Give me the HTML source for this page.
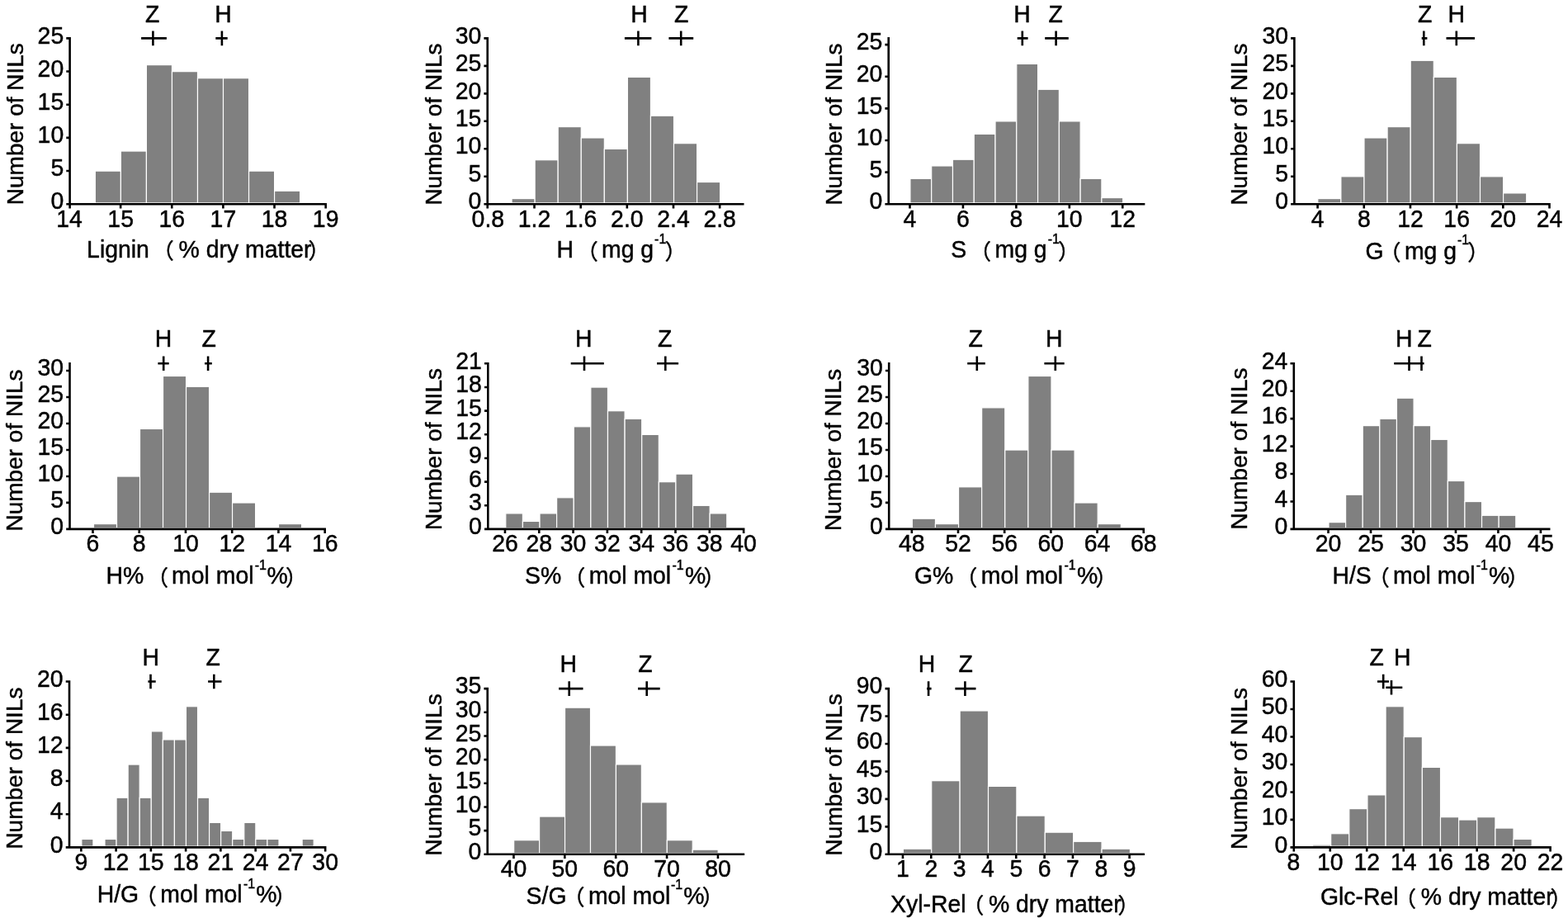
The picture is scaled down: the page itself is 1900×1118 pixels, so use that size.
<!DOCTYPE html>
<html><head><meta charset="utf-8"><title>NIL histograms</title>
<style>
html,body{margin:0;padding:0;background:#fff;overflow:hidden;}
svg{display:block;}
text{font-family:"Liberation Sans", Arial, sans-serif;font-size:28.4px;fill:#000;stroke:#000;stroke-width:0.45px;}
text.cj{font-family:"Noto Sans CJK SC", "Liberation Sans", sans-serif;font-size:26px;}
</style></head><body>
<svg width="1900" height="1118" viewBox="0 0 1900 1118">
<rect width="1900" height="1118" fill="#fff"/>
<g fill="#808080" stroke="#fff" stroke-width="1.15">
<rect x="115.35" y="207.14" width="31.03" height="38.76"/>
<rect x="146.38" y="183.04" width="31.03" height="62.86"/>
<rect x="177.42" y="78.63" width="31.03" height="167.27"/>
<rect x="208.45" y="86.66" width="31.03" height="159.24"/>
<rect x="239.48" y="94.69" width="31.03" height="151.21"/>
<rect x="270.51" y="94.69" width="31.03" height="151.21"/>
<rect x="301.55" y="207.14" width="31.03" height="38.76"/>
<rect x="332.58" y="231.24" width="31.03" height="14.66"/>
<rect x="620.05" y="240.61" width="28.07" height="5.29"/>
<rect x="648.12" y="193.75" width="28.07" height="52.15"/>
<rect x="676.18" y="153.59" width="28.07" height="92.31"/>
<rect x="704.25" y="166.98" width="28.07" height="78.92"/>
<rect x="732.31" y="180.37" width="28.07" height="65.53"/>
<rect x="760.38" y="93.35" width="28.07" height="152.55"/>
<rect x="788.44" y="140.21" width="28.07" height="105.69"/>
<rect x="816.51" y="173.67" width="28.07" height="72.23"/>
<rect x="844.57" y="220.53" width="28.07" height="25.37"/>
<rect x="1102.92" y="216.41" width="25.78" height="29.49"/>
<rect x="1128.7" y="200.96" width="25.78" height="44.94"/>
<rect x="1154.47" y="193.24" width="25.78" height="52.66"/>
<rect x="1180.25" y="162.35" width="25.78" height="83.55"/>
<rect x="1206.03" y="146.9" width="25.78" height="99"/>
<rect x="1231.8" y="77.39" width="25.78" height="168.51"/>
<rect x="1257.58" y="108.28" width="25.78" height="137.62"/>
<rect x="1283.36" y="146.9" width="25.78" height="99"/>
<rect x="1309.13" y="216.41" width="25.78" height="29.49"/>
<rect x="1334.91" y="239.58" width="25.78" height="6.32"/>
<rect x="1596.8" y="240.61" width="28.1" height="5.29"/>
<rect x="1624.9" y="213.83" width="28.1" height="32.07"/>
<rect x="1653" y="166.98" width="28.1" height="78.92"/>
<rect x="1681.1" y="153.59" width="28.1" height="92.31"/>
<rect x="1709.2" y="73.27" width="28.1" height="172.63"/>
<rect x="1737.31" y="93.35" width="28.1" height="152.55"/>
<rect x="1765.41" y="173.67" width="28.1" height="72.23"/>
<rect x="1793.51" y="213.83" width="28.1" height="32.07"/>
<rect x="1821.61" y="233.91" width="28.1" height="11.99"/>
<rect x="113.51" y="634.6" width="28.01" height="5"/>
<rect x="141.52" y="577.03" width="28.01" height="62.57"/>
<rect x="169.52" y="519.46" width="28.01" height="120.14"/>
<rect x="197.53" y="455.49" width="28.01" height="184.11"/>
<rect x="225.54" y="468.28" width="28.01" height="171.32"/>
<rect x="253.55" y="596.22" width="28.01" height="43.38"/>
<rect x="281.55" y="609.01" width="28.01" height="30.59"/>
<rect x="337.57" y="634.6" width="28.01" height="5"/>
<rect x="612.79" y="621.9" width="20.61" height="17.7"/>
<rect x="633.4" y="631.45" width="20.61" height="8.15"/>
<rect x="654.02" y="621.9" width="20.61" height="17.7"/>
<rect x="674.63" y="602.79" width="20.61" height="36.81"/>
<rect x="695.25" y="516.82" width="20.61" height="122.78"/>
<rect x="715.86" y="469.06" width="20.61" height="170.54"/>
<rect x="736.48" y="497.71" width="20.61" height="141.89"/>
<rect x="757.09" y="507.27" width="20.61" height="132.33"/>
<rect x="777.71" y="526.37" width="20.61" height="113.23"/>
<rect x="798.32" y="583.69" width="20.61" height="55.91"/>
<rect x="818.93" y="574.13" width="20.61" height="65.47"/>
<rect x="839.55" y="612.34" width="20.61" height="27.26"/>
<rect x="860.16" y="621.9" width="20.61" height="17.7"/>
<rect x="1105.34" y="628.21" width="28.11" height="11.39"/>
<rect x="1133.45" y="634.6" width="28.11" height="5"/>
<rect x="1161.55" y="589.82" width="28.11" height="49.78"/>
<rect x="1189.66" y="493.87" width="28.11" height="145.73"/>
<rect x="1217.77" y="545.04" width="28.11" height="94.56"/>
<rect x="1245.88" y="455.49" width="28.11" height="184.11"/>
<rect x="1273.98" y="545.04" width="28.11" height="94.56"/>
<rect x="1302.09" y="609.01" width="28.11" height="30.59"/>
<rect x="1330.2" y="634.6" width="28.11" height="5"/>
<rect x="1610" y="632.64" width="20.62" height="6.96"/>
<rect x="1630.62" y="599.21" width="20.62" height="40.39"/>
<rect x="1651.23" y="515.62" width="20.62" height="123.98"/>
<rect x="1671.85" y="507.27" width="20.62" height="132.33"/>
<rect x="1692.47" y="482.19" width="20.62" height="157.41"/>
<rect x="1713.09" y="515.62" width="20.62" height="123.98"/>
<rect x="1733.7" y="532.34" width="20.62" height="107.26"/>
<rect x="1754.32" y="582.49" width="20.62" height="57.11"/>
<rect x="1774.94" y="607.57" width="20.62" height="32.03"/>
<rect x="1795.55" y="624.28" width="20.62" height="15.32"/>
<rect x="1816.17" y="624.28" width="20.62" height="15.32"/>
<rect x="98.86" y="1016.46" width="14.07" height="8.64"/>
<rect x="126.99" y="1016.46" width="14.07" height="8.64"/>
<rect x="141.06" y="966.23" width="14.07" height="58.87"/>
<rect x="155.13" y="926.05" width="14.07" height="99.05"/>
<rect x="169.19" y="966.23" width="14.07" height="58.87"/>
<rect x="183.26" y="885.87" width="14.07" height="139.23"/>
<rect x="197.32" y="895.92" width="14.07" height="129.19"/>
<rect x="211.39" y="895.92" width="14.07" height="129.19"/>
<rect x="225.46" y="855.74" width="14.07" height="169.37"/>
<rect x="239.52" y="966.23" width="14.07" height="58.87"/>
<rect x="253.59" y="996.37" width="14.07" height="28.74"/>
<rect x="267.66" y="1006.41" width="14.07" height="18.69"/>
<rect x="281.72" y="1016.46" width="14.07" height="8.64"/>
<rect x="295.79" y="996.37" width="14.07" height="28.74"/>
<rect x="309.85" y="1016.46" width="14.07" height="8.64"/>
<rect x="323.92" y="1016.46" width="14.07" height="8.64"/>
<rect x="366.12" y="1016.46" width="14.07" height="8.64"/>
<rect x="622.68" y="1017.7" width="30.94" height="15.8"/>
<rect x="653.62" y="989.03" width="30.94" height="44.47"/>
<rect x="684.55" y="857.14" width="30.94" height="176.36"/>
<rect x="715.49" y="903.01" width="30.94" height="130.49"/>
<rect x="746.43" y="925.95" width="30.94" height="107.55"/>
<rect x="777.36" y="971.82" width="30.94" height="61.68"/>
<rect x="808.3" y="1017.7" width="30.94" height="15.8"/>
<rect x="839.24" y="1029.17" width="30.94" height="4.33"/>
<rect x="1094.37" y="1028.21" width="34.38" height="5.29"/>
<rect x="1128.75" y="945.7" width="34.38" height="87.8"/>
<rect x="1163.13" y="860.96" width="34.38" height="172.54"/>
<rect x="1197.52" y="952.39" width="34.38" height="81.11"/>
<rect x="1231.9" y="988.07" width="34.38" height="45.43"/>
<rect x="1266.28" y="1008.14" width="34.38" height="25.36"/>
<rect x="1300.66" y="1019.29" width="34.38" height="14.21"/>
<rect x="1335.05" y="1028.21" width="34.38" height="5.29"/>
<rect x="1590.55" y="1023.15" width="22.14" height="1.95"/>
<rect x="1612.69" y="1009.76" width="22.14" height="15.34"/>
<rect x="1634.82" y="979.62" width="22.14" height="45.48"/>
<rect x="1656.96" y="962.88" width="22.14" height="62.22"/>
<rect x="1679.09" y="855.74" width="22.14" height="169.37"/>
<rect x="1701.23" y="892.57" width="22.14" height="132.53"/>
<rect x="1723.36" y="929.4" width="22.14" height="95.7"/>
<rect x="1745.5" y="989.67" width="22.14" height="35.43"/>
<rect x="1767.63" y="993.02" width="22.14" height="32.08"/>
<rect x="1789.77" y="989.67" width="22.14" height="35.43"/>
<rect x="1811.9" y="1003.06" width="22.14" height="22.04"/>
<rect x="1834.04" y="1016.46" width="22.14" height="8.64"/>
</g>
<g fill="none" stroke="#000" stroke-width="2.6" stroke-linecap="butt">
<path d="M84.6 45.1V252.4M80.3 247.2H395.95M80.3 207.04H84.6M80.3 166.88H84.6M80.3 126.72H84.6M80.3 86.56H84.6M80.3 46.4H84.6M146.13 247.2V252.4M208.26 247.2V252.4M270.39 247.2V252.4M332.52 247.2V252.4M394.65 247.2V252.4M171.1 46.4H201.9M185.4 37.6V55.2M261.3 46.4H275.7M268.9 37.6V55.2"/>
<path d="M590.7 45.1V252.4M586.4 247.2H901.53M586.4 213.73H590.7M586.4 180.27H590.7M586.4 146.8H590.7M586.4 113.33H590.7M586.4 79.87H590.7M586.4 46.4H590.7M647.51 247.2V252.4M703.67 247.2V252.4M759.83 247.2V252.4M815.99 247.2V252.4M872.15 247.2V252.4M756.9 46.4H789.4M773.4 37.6V55.2M810.4 46.4H840.2M825.2 37.6V55.2"/>
<path d="M1076.7 45.1V248.5M1072.4 247.2H1387.36M1072.4 208.58H1076.7M1072.4 169.97H1076.7M1072.4 131.35H1076.7M1072.4 92.74H1076.7M1072.4 54.12H1076.7M1102.48 247.2V252.4M1166.93 247.2V252.4M1231.38 247.2V252.4M1295.83 247.2V252.4M1360.28 247.2V252.4M1232.7 46.4H1245.6M1238.8 37.6V55.2M1266.2 46.4H1294.8M1279.6 37.6V55.2"/>
<path d="M1568.4 45.1V248.5M1564.1 247.2H1878.81M1564.1 213.73H1568.4M1564.1 180.27H1568.4M1564.1 146.8H1568.4M1564.1 113.33H1568.4M1564.1 79.87H1568.4M1564.1 46.4H1568.4M1596.59 247.2V252.4M1652.78 247.2V252.4M1708.96 247.2V252.4M1765.14 247.2V252.4M1821.33 247.2V252.4M1877.51 247.2V252.4M1722.7 46.4H1729.4M1725.3 37.6V55.2M1752.5 46.4H1787M1764.8 37.6V55.2"/>
<path d="M84.5 439V642.2M80.2 640.9H394.98M80.2 608.91H84.5M80.2 576.93H84.5M80.2 544.94H84.5M80.2 512.96H84.5M80.2 480.97H84.5M80.2 448.99H84.5M112.48 640.9V646.1M168.72 640.9V646.1M224.96 640.9V646.1M281.2 640.9V646.1M337.44 640.9V646.1M393.68 640.9V646.1M191.4 440.3H204.7M198.2 431.5V449.1M248 440.3H256.8M252.1 431.5V449.1"/>
<path d="M591.3 439V642.2M587 640.9H902.42M587 612.24H591.3M587 583.59H591.3M587 554.93H591.3M587 526.27H591.3M587 497.61H591.3M587 468.96H591.3M587 440.3H591.3M611.95 640.9V646.1M653.26 640.9V646.1M694.57 640.9V646.1M735.88 640.9V646.1M777.19 640.9V646.1M818.5 640.9V646.1M859.81 640.9V646.1M901.12 640.9V646.1M691.7 440.3H731.8M708 431.5V449.1M796 440.3H822.1M806.3 431.5V449.1"/>
<path d="M1077.2 439V642.2M1072.9 640.9H1387.03M1072.9 608.91H1077.2M1072.9 576.93H1077.2M1072.9 544.94H1077.2M1072.9 512.96H1077.2M1072.9 480.97H1077.2M1072.9 448.99H1077.2M1104.83 640.9V646.1M1161.01 640.9V646.1M1217.19 640.9V646.1M1273.37 640.9V646.1M1329.55 640.9V646.1M1385.73 640.9V646.1M1172.2 440.3H1193.8M1183.8 431.5V449.1M1265.4 440.3H1289.7M1278.8 431.5V449.1"/>
<path d="M1567.8 439V642.2M1563.5 640.9H1878.49M1563.5 607.47H1567.8M1563.5 574.03H1567.8M1563.5 540.6H1567.8M1563.5 507.17H1567.8M1563.5 473.73H1567.8M1563.5 440.3H1567.8M1609.55 640.9V646.1M1661.02 640.9V646.1M1712.49 640.9V646.1M1763.96 640.9V646.1M1815.43 640.9V646.1M1866.9 640.9V646.1M1689.2 440.3H1716M1707.5 431.5V449.1M1710 440.3H1725.6M1722.5 431.5V449.1"/>
<path d="M84 824.2V1027.7M79.7 1026.4H395.46M79.7 986.22H84M79.7 946.04H84M79.7 905.86H84M79.7 865.68H84M79.7 825.5H84M98.34 1026.4V1031.6M140.6 1026.4V1031.6M182.86 1026.4V1031.6M225.12 1026.4V1031.6M267.38 1026.4V1031.6M309.64 1026.4V1031.6M351.9 1026.4V1031.6M394.16 1026.4V1031.6M179.4 825.5H188.7M182.5 816.7V834.3M252.1 825.5H268.5M259.3 816.7V834.3"/>
<path d="M590.7 832.8V1036.1M586.4 1034.8H902.17M586.4 1006.13H590.7M586.4 977.46H590.7M586.4 948.79H590.7M586.4 920.11H590.7M586.4 891.44H590.7M586.4 862.77H590.7M586.4 834.1H590.7M622.44 1034.8V1040M684.31 1034.8V1040M746.19 1034.8V1040M808.06 1034.8V1040M869.94 1034.8V1040M677.1 834.1H706.5M689.7 825.3V842.9M773 834.1H799.7M783.7 825.3V842.9"/>
<path d="M1076.8 832.8V1036.1M1072.5 1034.8H1387.07M1072.5 1001.35H1076.8M1072.5 967.9H1076.8M1072.5 934.45H1076.8M1072.5 901H1076.8M1072.5 867.55H1076.8M1072.5 834.1H1076.8M1093.96 1034.8V1040M1128.29 1034.8V1040M1162.62 1034.8V1040M1196.95 1034.8V1040M1231.28 1034.8V1040M1265.62 1034.8V1040M1299.94 1034.8V1040M1334.27 1034.8V1040M1368.61 1034.8V1040M1123.1 834.1H1128.6M1125.1 825.3V842.9M1157.4 834.1H1182.5M1169.4 825.3V842.9"/>
<path d="M1567.8 824.2V1031.6M1563.5 1026.4H1879.9M1563.5 992.92H1567.8M1563.5 959.43H1567.8M1563.5 925.95H1567.8M1563.5 892.47H1567.8M1563.5 858.98H1567.8M1563.5 825.5H1567.8M1611.77 1026.4V1031.6M1656.24 1026.4V1031.6M1700.72 1026.4V1031.6M1745.19 1026.4V1031.6M1789.66 1026.4V1031.6M1834.13 1026.4V1031.6M1878.6 1026.4V1031.6M1669 825.5H1683M1676.2 816.7V834.3M1679.3 832.7H1699.3M1686 823.9V841.5"/>
</g>
<g>
<text transform="translate(77.2 253.4) scale(1 1.05)" text-anchor="end">0</text>
<text transform="translate(77.2 213.24) scale(1 1.05)" text-anchor="end">5</text>
<text transform="translate(77.2 173.08) scale(1 1.05)" text-anchor="end">10</text>
<text transform="translate(77.2 132.92) scale(1 1.05)" text-anchor="end">15</text>
<text transform="translate(77.2 92.76) scale(1 1.05)" text-anchor="end">20</text>
<text transform="translate(77.2 52.6) scale(1 1.05)" text-anchor="end">25</text>
<text transform="translate(84 274.6) scale(1 1.05)" text-anchor="middle">14</text>
<text transform="translate(146.13 274.6) scale(1 1.05)" text-anchor="middle">15</text>
<text transform="translate(208.26 274.6) scale(1 1.05)" text-anchor="middle">16</text>
<text transform="translate(270.39 274.6) scale(1 1.05)" text-anchor="middle">17</text>
<text transform="translate(332.52 274.6) scale(1 1.05)" text-anchor="middle">18</text>
<text transform="translate(394.65 274.6) scale(1 1.05)" text-anchor="middle">19</text>
<text transform="translate(176 26.9) scale(1 1.05)">Z</text>
<text transform="translate(260.3 26.9) scale(1 1.05)">H</text>
<text transform="translate(105.1 311.8) scale(1 1.05)">Lignin</text>
<text x="184.7" y="313.2" class="cj">（</text>
<text transform="translate(216.6 311.8) scale(1 1.05)">% dry matter</text>
<text x="373.4" y="313.2" class="cj">）</text>
<text transform="translate(27.6 248.2) rotate(-90)" style="font-size:28px">Number of NILs</text>
<text transform="translate(583.3 253.4) scale(1 1.05)" text-anchor="end">0</text>
<text transform="translate(583.3 219.93) scale(1 1.05)" text-anchor="end">5</text>
<text transform="translate(583.3 186.47) scale(1 1.05)" text-anchor="end">10</text>
<text transform="translate(583.3 153) scale(1 1.05)" text-anchor="end">15</text>
<text transform="translate(583.3 119.53) scale(1 1.05)" text-anchor="end">20</text>
<text transform="translate(583.3 86.07) scale(1 1.05)" text-anchor="end">25</text>
<text transform="translate(583.3 52.6) scale(1 1.05)" text-anchor="end">30</text>
<text transform="translate(591.35 274.6) scale(1 1.05)" text-anchor="middle">0.8</text>
<text transform="translate(647.51 274.6) scale(1 1.05)" text-anchor="middle">1.2</text>
<text transform="translate(703.67 274.6) scale(1 1.05)" text-anchor="middle">1.6</text>
<text transform="translate(759.83 274.6) scale(1 1.05)" text-anchor="middle">2.0</text>
<text transform="translate(815.99 274.6) scale(1 1.05)" text-anchor="middle">2.4</text>
<text transform="translate(872.15 274.6) scale(1 1.05)" text-anchor="middle">2.8</text>
<text transform="translate(764.2 26.9) scale(1 1.05)">H</text>
<text transform="translate(816.9 26.9) scale(1 1.05)">Z</text>
<text transform="translate(674.6 312.1) scale(1 1.05)">H</text>
<text x="698.7" y="313.5" class="cj">（</text>
<text transform="translate(729 312.1) scale(1 1.05)">mg g</text>
<text transform="translate(793.1 294.5) scale(1 1.05)" style="font-size:16px">-1</text>
<text x="805.4" y="313.5" class="cj">）</text>
<text transform="translate(535.2 248.6) rotate(-90)" style="font-size:28px">Number of NILs</text>
<text transform="translate(1069.3 253.4) scale(1 1.05)" text-anchor="end">0</text>
<text transform="translate(1069.3 214.78) scale(1 1.05)" text-anchor="end">5</text>
<text transform="translate(1069.3 176.17) scale(1 1.05)" text-anchor="end">10</text>
<text transform="translate(1069.3 137.55) scale(1 1.05)" text-anchor="end">15</text>
<text transform="translate(1069.3 98.94) scale(1 1.05)" text-anchor="end">20</text>
<text transform="translate(1069.3 60.32) scale(1 1.05)" text-anchor="end">25</text>
<text transform="translate(1102.48 274.6) scale(1 1.05)" text-anchor="middle">4</text>
<text transform="translate(1166.93 274.6) scale(1 1.05)" text-anchor="middle">6</text>
<text transform="translate(1231.38 274.6) scale(1 1.05)" text-anchor="middle">8</text>
<text transform="translate(1295.83 274.6) scale(1 1.05)" text-anchor="middle">10</text>
<text transform="translate(1360.28 274.6) scale(1 1.05)" text-anchor="middle">12</text>
<text transform="translate(1228.2 26.9) scale(1 1.05)">H</text>
<text transform="translate(1270.6 26.9) scale(1 1.05)">Z</text>
<text transform="translate(1152.3 312.1) scale(1 1.05)">S</text>
<text x="1175" y="313.5" class="cj">（</text>
<text transform="translate(1205.5 312.1) scale(1 1.05)">mg g</text>
<text transform="translate(1269.8 294.5) scale(1 1.05)" style="font-size:16px">-1</text>
<text x="1281.9" y="313.5" class="cj">）</text>
<text transform="translate(1019.7 248.6) rotate(-90)" style="font-size:28px">Number of NILs</text>
<text transform="translate(1561 253.4) scale(1 1.05)" text-anchor="end">0</text>
<text transform="translate(1561 219.93) scale(1 1.05)" text-anchor="end">5</text>
<text transform="translate(1561 186.47) scale(1 1.05)" text-anchor="end">10</text>
<text transform="translate(1561 153) scale(1 1.05)" text-anchor="end">15</text>
<text transform="translate(1561 119.53) scale(1 1.05)" text-anchor="end">20</text>
<text transform="translate(1561 86.07) scale(1 1.05)" text-anchor="end">25</text>
<text transform="translate(1561 52.6) scale(1 1.05)" text-anchor="end">30</text>
<text transform="translate(1596.59 274.6) scale(1 1.05)" text-anchor="middle">4</text>
<text transform="translate(1652.78 274.6) scale(1 1.05)" text-anchor="middle">8</text>
<text transform="translate(1708.96 274.6) scale(1 1.05)" text-anchor="middle">12</text>
<text transform="translate(1765.14 274.6) scale(1 1.05)" text-anchor="middle">16</text>
<text transform="translate(1821.33 274.6) scale(1 1.05)" text-anchor="middle">20</text>
<text transform="translate(1877.51 274.6) scale(1 1.05)" text-anchor="middle">24</text>
<text transform="translate(1718.1 26.9) scale(1 1.05)">Z</text>
<text transform="translate(1754.6 26.9) scale(1 1.05)">H</text>
<text transform="translate(1654.6 313.5) scale(1 1.05)">G</text>
<text x="1671.5" y="314.9" class="cj">（</text>
<text transform="translate(1701.9 313.5) scale(1 1.05)">mg g</text>
<text transform="translate(1766 295.9) scale(1 1.05)" style="font-size:16px">-1</text>
<text x="1778.3" y="314.9" class="cj">）</text>
<text transform="translate(1511.3 248.6) rotate(-90)" style="font-size:28px">Number of NILs</text>
<text transform="translate(77.1 647.1) scale(1 1.05)" text-anchor="end">0</text>
<text transform="translate(77.1 615.12) scale(1 1.05)" text-anchor="end">5</text>
<text transform="translate(77.1 583.13) scale(1 1.05)" text-anchor="end">10</text>
<text transform="translate(77.1 551.14) scale(1 1.05)" text-anchor="end">15</text>
<text transform="translate(77.1 519.16) scale(1 1.05)" text-anchor="end">20</text>
<text transform="translate(77.1 487.17) scale(1 1.05)" text-anchor="end">25</text>
<text transform="translate(77.1 455.19) scale(1 1.05)" text-anchor="end">30</text>
<text transform="translate(112.48 668.3) scale(1 1.05)" text-anchor="middle">6</text>
<text transform="translate(168.72 668.3) scale(1 1.05)" text-anchor="middle">8</text>
<text transform="translate(224.96 668.3) scale(1 1.05)" text-anchor="middle">10</text>
<text transform="translate(281.2 668.3) scale(1 1.05)" text-anchor="middle">12</text>
<text transform="translate(337.44 668.3) scale(1 1.05)" text-anchor="middle">14</text>
<text transform="translate(393.68 668.3) scale(1 1.05)" text-anchor="middle">16</text>
<text transform="translate(187.8 420.1) scale(1 1.05)">H</text>
<text transform="translate(244.4 420.1) scale(1 1.05)">Z</text>
<text transform="translate(128.5 707.4) scale(1 1.05)">H%</text>
<text x="178.1" y="708.8" class="cj">（</text>
<text transform="translate(208.1 707.4) scale(1 1.05)">mol mol</text>
<text transform="translate(308.8 689.8) scale(1 1.05)" style="font-size:16px">-1</text>
<text transform="translate(323.6 707.4) scale(1 1.05)">%</text>
<text x="346.1" y="708.8" class="cj">）</text>
<text transform="translate(27.3 643.5) rotate(-90)" style="font-size:28px">Number of NILs</text>
<text transform="translate(583.9 647.1) scale(1 1.05)" text-anchor="end">0</text>
<text transform="translate(583.9 618.44) scale(1 1.05)" text-anchor="end">3</text>
<text transform="translate(583.9 589.79) scale(1 1.05)" text-anchor="end">6</text>
<text transform="translate(583.9 561.13) scale(1 1.05)" text-anchor="end">9</text>
<text transform="translate(583.9 532.47) scale(1 1.05)" text-anchor="end">12</text>
<text transform="translate(583.9 503.81) scale(1 1.05)" text-anchor="end">15</text>
<text transform="translate(583.9 475.16) scale(1 1.05)" text-anchor="end">18</text>
<text transform="translate(583.9 446.5) scale(1 1.05)" text-anchor="end">21</text>
<text transform="translate(611.95 668.3) scale(1 1.05)" text-anchor="middle">26</text>
<text transform="translate(653.26 668.3) scale(1 1.05)" text-anchor="middle">28</text>
<text transform="translate(694.57 668.3) scale(1 1.05)" text-anchor="middle">30</text>
<text transform="translate(735.88 668.3) scale(1 1.05)" text-anchor="middle">32</text>
<text transform="translate(777.19 668.3) scale(1 1.05)" text-anchor="middle">34</text>
<text transform="translate(818.5 668.3) scale(1 1.05)" text-anchor="middle">36</text>
<text transform="translate(859.81 668.3) scale(1 1.05)" text-anchor="middle">38</text>
<text transform="translate(901.12 668.3) scale(1 1.05)" text-anchor="middle">40</text>
<text transform="translate(696.9 420.1) scale(1 1.05)">H</text>
<text transform="translate(797 420.1) scale(1 1.05)">Z</text>
<text transform="translate(636.1 707.4) scale(1 1.05)">S%</text>
<text x="683.3" y="708.8" class="cj">（</text>
<text transform="translate(713.8 707.4) scale(1 1.05)">mol mol</text>
<text transform="translate(814.5 689.8) scale(1 1.05)" style="font-size:16px">-1</text>
<text transform="translate(829.9 707.4) scale(1 1.05)">%</text>
<text x="852.4" y="708.8" class="cj">）</text>
<text transform="translate(534.8 642.1) rotate(-90)" style="font-size:28px">Number of NILs</text>
<text transform="translate(1069.8 647.1) scale(1 1.05)" text-anchor="end">0</text>
<text transform="translate(1069.8 615.12) scale(1 1.05)" text-anchor="end">5</text>
<text transform="translate(1069.8 583.13) scale(1 1.05)" text-anchor="end">10</text>
<text transform="translate(1069.8 551.14) scale(1 1.05)" text-anchor="end">15</text>
<text transform="translate(1069.8 519.16) scale(1 1.05)" text-anchor="end">20</text>
<text transform="translate(1069.8 487.17) scale(1 1.05)" text-anchor="end">25</text>
<text transform="translate(1069.8 455.19) scale(1 1.05)" text-anchor="end">30</text>
<text transform="translate(1104.83 668.3) scale(1 1.05)" text-anchor="middle">48</text>
<text transform="translate(1161.01 668.3) scale(1 1.05)" text-anchor="middle">52</text>
<text transform="translate(1217.19 668.3) scale(1 1.05)" text-anchor="middle">56</text>
<text transform="translate(1273.37 668.3) scale(1 1.05)" text-anchor="middle">60</text>
<text transform="translate(1329.55 668.3) scale(1 1.05)" text-anchor="middle">64</text>
<text transform="translate(1385.73 668.3) scale(1 1.05)" text-anchor="middle">68</text>
<text transform="translate(1173.6 420.1) scale(1 1.05)">Z</text>
<text transform="translate(1266.9 420.1) scale(1 1.05)">H</text>
<text transform="translate(1107.9 707.4) scale(1 1.05)">G%</text>
<text x="1158.3" y="708.8" class="cj">（</text>
<text transform="translate(1188.8 707.4) scale(1 1.05)">mol mol</text>
<text transform="translate(1289.5 689.8) scale(1 1.05)" style="font-size:16px">-1</text>
<text transform="translate(1304.9 707.4) scale(1 1.05)">%</text>
<text x="1327.4" y="708.8" class="cj">）</text>
<text transform="translate(1019.3 642.9) rotate(-90)" style="font-size:28px">Number of NILs</text>
<text transform="translate(1560.4 647.1) scale(1 1.05)" text-anchor="end">0</text>
<text transform="translate(1560.4 613.67) scale(1 1.05)" text-anchor="end">4</text>
<text transform="translate(1560.4 580.23) scale(1 1.05)" text-anchor="end">8</text>
<text transform="translate(1560.4 546.8) scale(1 1.05)" text-anchor="end">12</text>
<text transform="translate(1560.4 513.37) scale(1 1.05)" text-anchor="end">16</text>
<text transform="translate(1560.4 479.93) scale(1 1.05)" text-anchor="end">20</text>
<text transform="translate(1560.4 446.5) scale(1 1.05)" text-anchor="end">24</text>
<text transform="translate(1609.55 668.3) scale(1 1.05)" text-anchor="middle">20</text>
<text transform="translate(1661.02 668.3) scale(1 1.05)" text-anchor="middle">25</text>
<text transform="translate(1712.49 668.3) scale(1 1.05)" text-anchor="middle">30</text>
<text transform="translate(1763.96 668.3) scale(1 1.05)" text-anchor="middle">35</text>
<text transform="translate(1815.43 668.3) scale(1 1.05)" text-anchor="middle">40</text>
<text transform="translate(1866.9 668.3) scale(1 1.05)" text-anchor="middle">45</text>
<text transform="translate(1690.9 420.1) scale(1 1.05)">H</text>
<text transform="translate(1717.4 420.1) scale(1 1.05)">Z</text>
<text transform="translate(1614.4 707.4) scale(1 1.05)">H/S</text>
<text x="1657.7" y="708.8" class="cj">（</text>
<text transform="translate(1688.1 707.4) scale(1 1.05)">mol mol</text>
<text transform="translate(1788.8 689.8) scale(1 1.05)" style="font-size:16px">-1</text>
<text transform="translate(1804 707.4) scale(1 1.05)">%</text>
<text x="1826.5" y="708.8" class="cj">）</text>
<text transform="translate(1511.3 641.5) rotate(-90)" style="font-size:28px">Number of NILs</text>
<text transform="translate(76.6 1032.6) scale(1 1.05)" text-anchor="end">0</text>
<text transform="translate(76.6 992.42) scale(1 1.05)" text-anchor="end">4</text>
<text transform="translate(76.6 952.24) scale(1 1.05)" text-anchor="end">8</text>
<text transform="translate(76.6 912.06) scale(1 1.05)" text-anchor="end">12</text>
<text transform="translate(76.6 871.88) scale(1 1.05)" text-anchor="end">16</text>
<text transform="translate(76.6 831.7) scale(1 1.05)" text-anchor="end">20</text>
<text transform="translate(98.34 1053.8) scale(1 1.05)" text-anchor="middle">9</text>
<text transform="translate(140.6 1053.8) scale(1 1.05)" text-anchor="middle">12</text>
<text transform="translate(182.86 1053.8) scale(1 1.05)" text-anchor="middle">15</text>
<text transform="translate(225.12 1053.8) scale(1 1.05)" text-anchor="middle">18</text>
<text transform="translate(267.38 1053.8) scale(1 1.05)" text-anchor="middle">21</text>
<text transform="translate(309.64 1053.8) scale(1 1.05)" text-anchor="middle">24</text>
<text transform="translate(351.9 1053.8) scale(1 1.05)" text-anchor="middle">27</text>
<text transform="translate(394.16 1053.8) scale(1 1.05)" text-anchor="middle">30</text>
<text transform="translate(172.6 805.6) scale(1 1.05)">H</text>
<text transform="translate(249.6 805.6) scale(1 1.05)">Z</text>
<text transform="translate(117.7 1093.3) scale(1 1.05)">H/G</text>
<text x="163.8" y="1094.7" class="cj">（</text>
<text transform="translate(194.3 1093.3) scale(1 1.05)">mol mol</text>
<text transform="translate(295 1075.7) scale(1 1.05)" style="font-size:16px">-1</text>
<text transform="translate(310.2 1093.3) scale(1 1.05)">%</text>
<text x="332.7" y="1094.7" class="cj">）</text>
<text transform="translate(27.3 1028.6) rotate(-90)" style="font-size:28px">Number of NILs</text>
<text transform="translate(583.3 1041) scale(1 1.05)" text-anchor="end">0</text>
<text transform="translate(583.3 1012.33) scale(1 1.05)" text-anchor="end">5</text>
<text transform="translate(583.3 983.66) scale(1 1.05)" text-anchor="end">10</text>
<text transform="translate(583.3 954.99) scale(1 1.05)" text-anchor="end">15</text>
<text transform="translate(583.3 926.31) scale(1 1.05)" text-anchor="end">20</text>
<text transform="translate(583.3 897.64) scale(1 1.05)" text-anchor="end">25</text>
<text transform="translate(583.3 868.97) scale(1 1.05)" text-anchor="end">30</text>
<text transform="translate(583.3 840.3) scale(1 1.05)" text-anchor="end">35</text>
<text transform="translate(622.44 1062.2) scale(1 1.05)" text-anchor="middle">40</text>
<text transform="translate(684.31 1062.2) scale(1 1.05)" text-anchor="middle">50</text>
<text transform="translate(746.19 1062.2) scale(1 1.05)" text-anchor="middle">60</text>
<text transform="translate(808.06 1062.2) scale(1 1.05)" text-anchor="middle">70</text>
<text transform="translate(869.94 1062.2) scale(1 1.05)" text-anchor="middle">80</text>
<text transform="translate(678.6 814.4) scale(1 1.05)">H</text>
<text transform="translate(773.3 814.4) scale(1 1.05)">Z</text>
<text transform="translate(637.6 1095) scale(1 1.05)">S/G</text>
<text x="682.4" y="1096.4" class="cj">（</text>
<text transform="translate(712.9 1095) scale(1 1.05)">mol mol</text>
<text transform="translate(812.9 1077.4) scale(1 1.05)" style="font-size:16px">-1</text>
<text transform="translate(828.3 1095) scale(1 1.05)">%</text>
<text x="850.8" y="1096.4" class="cj">）</text>
<text transform="translate(534.8 1036.4) rotate(-90)" style="font-size:28px">Number of NILs</text>
<text transform="translate(1069.4 1041) scale(1 1.05)" text-anchor="end">0</text>
<text transform="translate(1069.4 1007.55) scale(1 1.05)" text-anchor="end">15</text>
<text transform="translate(1069.4 974.1) scale(1 1.05)" text-anchor="end">30</text>
<text transform="translate(1069.4 940.65) scale(1 1.05)" text-anchor="end">45</text>
<text transform="translate(1069.4 907.2) scale(1 1.05)" text-anchor="end">60</text>
<text transform="translate(1069.4 873.75) scale(1 1.05)" text-anchor="end">75</text>
<text transform="translate(1069.4 840.3) scale(1 1.05)" text-anchor="end">90</text>
<text transform="translate(1093.96 1062.2) scale(1 1.05)" text-anchor="middle">1</text>
<text transform="translate(1128.29 1062.2) scale(1 1.05)" text-anchor="middle">2</text>
<text transform="translate(1162.62 1062.2) scale(1 1.05)" text-anchor="middle">3</text>
<text transform="translate(1196.95 1062.2) scale(1 1.05)" text-anchor="middle">4</text>
<text transform="translate(1231.28 1062.2) scale(1 1.05)" text-anchor="middle">5</text>
<text transform="translate(1265.62 1062.2) scale(1 1.05)" text-anchor="middle">6</text>
<text transform="translate(1299.94 1062.2) scale(1 1.05)" text-anchor="middle">7</text>
<text transform="translate(1334.27 1062.2) scale(1 1.05)" text-anchor="middle">8</text>
<text transform="translate(1368.61 1062.2) scale(1 1.05)" text-anchor="middle">9</text>
<text transform="translate(1112.7 814.4) scale(1 1.05)">H</text>
<text transform="translate(1161.4 814.4) scale(1 1.05)">Z</text>
<text transform="translate(1079.1 1104.8) scale(1 1.05)">Xyl-Rel</text>
<text x="1166.2" y="1106.2" class="cj">（</text>
<text transform="translate(1197.9 1104.8) scale(1 1.05)">% dry matter</text>
<text x="1354.5" y="1106.2" class="cj">）</text>
<text transform="translate(1019.7 1036.4) rotate(-90)" style="font-size:28px">Number of NILs</text>
<text transform="translate(1560.4 1032.6) scale(1 1.05)" text-anchor="end">0</text>
<text transform="translate(1560.4 999.12) scale(1 1.05)" text-anchor="end">10</text>
<text transform="translate(1560.4 965.63) scale(1 1.05)" text-anchor="end">20</text>
<text transform="translate(1560.4 932.15) scale(1 1.05)" text-anchor="end">30</text>
<text transform="translate(1560.4 898.67) scale(1 1.05)" text-anchor="end">40</text>
<text transform="translate(1560.4 865.18) scale(1 1.05)" text-anchor="end">50</text>
<text transform="translate(1560.4 831.7) scale(1 1.05)" text-anchor="end">60</text>
<text transform="translate(1567.3 1053.8) scale(1 1.05)" text-anchor="middle">8</text>
<text transform="translate(1611.77 1053.8) scale(1 1.05)" text-anchor="middle">10</text>
<text transform="translate(1656.24 1053.8) scale(1 1.05)" text-anchor="middle">12</text>
<text transform="translate(1700.72 1053.8) scale(1 1.05)" text-anchor="middle">14</text>
<text transform="translate(1745.19 1053.8) scale(1 1.05)" text-anchor="middle">16</text>
<text transform="translate(1789.66 1053.8) scale(1 1.05)" text-anchor="middle">18</text>
<text transform="translate(1834.13 1053.8) scale(1 1.05)" text-anchor="middle">20</text>
<text transform="translate(1878.6 1053.8) scale(1 1.05)" text-anchor="middle">22</text>
<text transform="translate(1659.6 805.6) scale(1 1.05)">Z</text>
<text transform="translate(1689.1 805.6) scale(1 1.05)">H</text>
<text transform="translate(1599.9 1096.3) scale(1 1.05)">Glc-Rel</text>
<text x="1690.1" y="1097.7" class="cj">（</text>
<text transform="translate(1721.8 1096.3) scale(1 1.05)">% dry matter</text>
<text x="1878.4" y="1097.7" class="cj">）</text>
<text transform="translate(1511.3 1029) rotate(-90)" style="font-size:28px">Number of NILs</text>
</g>
</svg>
</body></html>
